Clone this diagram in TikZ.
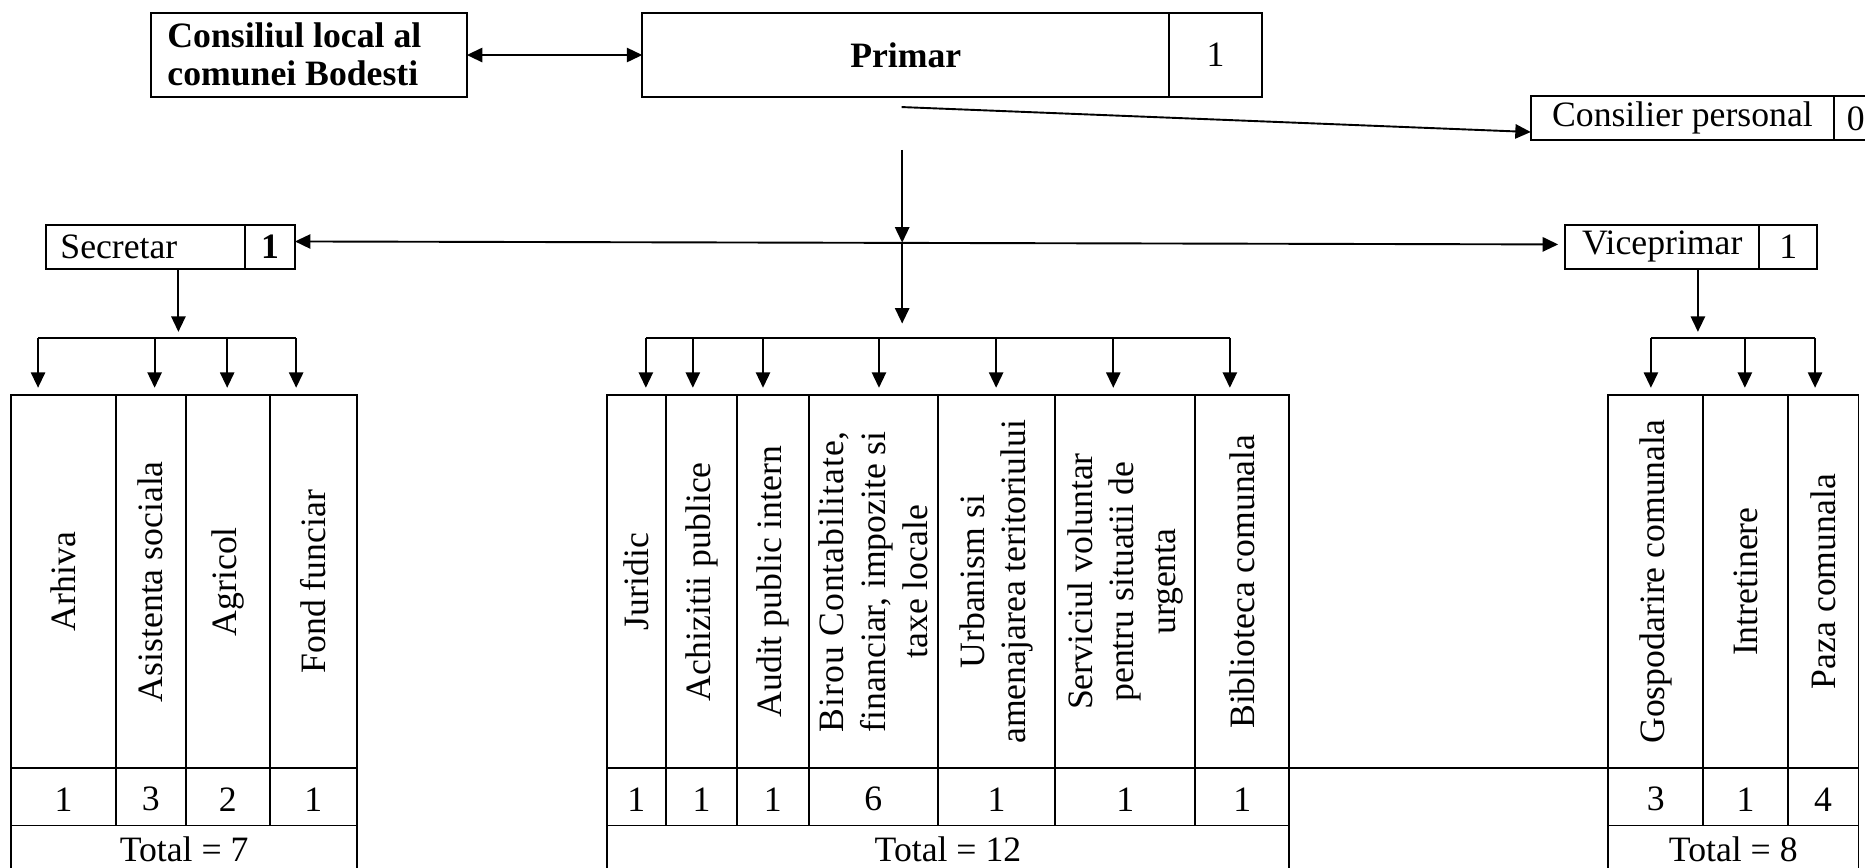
\documentclass[tikz,border=0pt]{standalone}
\usepackage{fontspec}
\setmainfont{Liberation Serif}
\usetikzlibrary{arrows.meta}
\newlength\birouwd
\newcommand\birouline{\settowidth{\birouwd}{financiar, impozite si}\hbox to\birouwd{B\hfill i\hfill r\hfill o\hfill u\hfill\ \hfill C\hfill o\hfill n\hfill t\hfill a\hfill b\hfill i\hfill l\hfill i\hfill t\hfill a\hfill t\hfill e\hfill,}}
\begin{document}
\begin{tikzpicture}[x=1pt,y=-1pt,line width=1.6pt,
  box/.style={draw,anchor=north west,inner sep=0pt,outer sep=0pt},
  lbl/.style={inner sep=0pt},
  vlbl/.style={inner sep=0pt,rotate=90,align=center},
  tip/.style={-{Triangle[length=13pt,width=12pt]}},
  dtip/.style={{Triangle[length=13pt,width=12pt]}-{Triangle[length=13pt,width=12pt]}},
  font=\fontsize{30}{35}\selectfont]
\clip (0,0) rectangle (1568,729);
\fill[white] (0,0) rectangle (1568,729);

% top row
\node[box,minimum width=265.5,minimum height=70.5] (cons) at (127,11) {};
\node[lbl,anchor=west,align=left,font=\fontsize{30}{32}\selectfont\bfseries] (const) at (140,46) {Consiliul local al\\comunei Bodesti};
\node[box,minimum width=443,minimum height=70.5] (prim) at (540,11) {};
\node[box,minimum width=78,minimum height=70.5] (primn) at (983,11) {};
\node[lbl,font=\fontsize{30}{35}\selectfont\bfseries] (primt) at (prim.center) {Primar};
\node[lbl] (primnt) at (primn.center) {1};
\draw[dtip] (cons.east) -- (prim.west);

% consilier personal
\node[box,minimum width=255,minimum height=37] (cp) at (1287,81) {};
\node[box,minimum width=80,minimum height=37] (cpn) at (1542,81) {};
\node[lbl] (cpt) at (cp.center) {Consilier personal};
\node[lbl,anchor=west] (cpnt) at ([xshift=10pt]cpn.west) {0};
\coordinate (cpfrom) at (758,90);
\draw[tip] (cpfrom) -- (1287,111);

% secretar / viceprimar
\node[box,minimum width=167.5,minimum height=37] (sec) at (38.5,189) {};
\node[box,minimum width=42,minimum height=37] (secn) at (206,189) {};
\node[lbl,anchor=west] (sect) at (50,207.5) {Secretar};
\node[lbl,font=\fontsize{30}{35}\selectfont\bfseries] (secnt) at (secn.center) {1};
\node[box,minimum width=163,minimum height=37] (vp) at (1316,189) {};
\node[box,minimum width=49,minimum height=37] (vpn) at (1479,189) {};
\node[lbl] (vpt) at (vp.center) {Viceprimar};
\node[lbl] (vpnt) at (vpn.center) {1};

\coordinate (ptop) at (758.5,126);
\coordinate (pmid) at (758.5,204);
\coordinate (pbot) at (758.5,272);
\coordinate (vpl) at (1310,205.5);
\draw[dtip] (248,203) -- (vpl);
\draw[tip] (ptop) -- (pmid);
\draw[tip] (pmid) -- (pbot);

% secretar branches
\draw[tip] (150,226) -- (150,279);
\draw (32,284) -- (249,284);
\foreach \x in {32,130,191,249} \draw[tip] (\x,284) -- (\x,326);

% middle branches
\draw (543,284) -- (1034,284);
\foreach \x in {543,582.5,641.5,739,837.5,936,1034} \draw[tip] (\x,284) -- (\x,326);

% viceprimar branches
\draw[tip] (1427.5,226) -- (1427.5,279);
\draw (1388,284) -- (1526,284);
\foreach \x in {1388,1467,1526} \draw[tip] (\x,284) -- (\x,326);

% tables
\foreach \a/\b/\t/\n [count=\i] in {9.5/97.5/Arhiva/1, 97.5/156/Asistenta sociala/3, 156/227/Agricol/2, 227/300/Fond funciar/1}{
  \node[box,minimum width=\b-\a,minimum height=314] (L\i) at (\a,332) {};
  \node[vlbl] (Lt\i) at (L\i.center) {\t};
  \node[box,minimum width=\b-\a,minimum height=48] (Ln\i) at (\a,646) {};
  \node[lbl] (Lnt\i) at ([yshift=-2pt]Ln\i.center) {\n};
}
\node[box,minimum width=290.5,minimum height=70] (Ltot) at (9.5,694) {};
\node[lbl] (Ltott) at (154.75,714) {Total = 7};

\foreach \a/\b/\t/\n [count=\i] in {510/560/Juridic/1, 560/619.5/Achizitii publice/1, 619.5/680/Audit public intern/1,
   680/788.5/{\birouline\\financiar, impozite si\\taxe locale}/6,
   788.5/887/{Urbanism si\\amenajarea teritoriului}/1,
   887/1005/{Serviciul voluntar\\pentru situatii de\\urgenta}/1,
   1005/1084/Biblioteca comunala/1}{
  \node[box,minimum width=\b-\a,minimum height=314] (M\i) at (\a,332) {};
  \node[vlbl] (Mt\i) at (M\i.center) {\t};
  \node[box,minimum width=\b-\a,minimum height=48] (Mn\i) at (\a,646) {};
  \node[lbl] (Mnt\i) at ([yshift=-2pt]Mn\i.center) {\n};
}
\node[box,minimum width=574,minimum height=70] (Mtot) at (510,694) {};
\node[lbl] (Mtott) at (797,714) {Total = 12};

\foreach \a/\b/\t/\n [count=\i] in {1352/1432/Gospodarire comunala/3, 1432/1503/Intretinere/1, 1503/1562.5/Paza comunala/4}{
  \node[box,minimum width=\b-\a,minimum height=314] (R\i) at (\a,332) {};
  \node[vlbl] (Rt\i) at (R\i.center) {\t};
  \node[box,minimum width=\b-\a,minimum height=48] (Rn\i) at (\a,646) {};
  \node[lbl] (Rnt\i) at ([yshift=-2pt]Rn\i.center) {\n};
}
\node[box,minimum width=210.5,minimum height=70] (Rtot) at (1352,694) {};
\node[lbl] (Rtott) at (1457.25,714) {Total = 8};

\draw (Mn7.north east) -- (Rn1.north west);
\end{tikzpicture}
\end{document}
